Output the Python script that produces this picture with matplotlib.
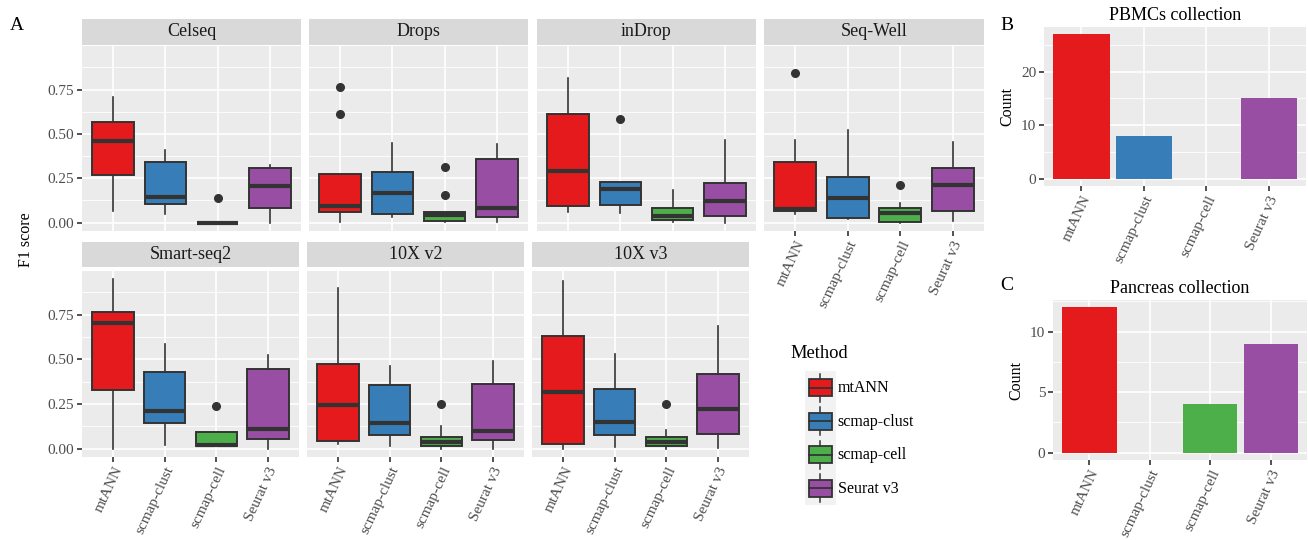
import numpy as np
import matplotlib.pyplot as plt
from matplotlib.patches import Rectangle
from matplotlib.lines import Line2D
from matplotlib.legend_handler import HandlerBase

plt.rcParams['font.family'] = ['Liberation Serif', 'DejaVu Serif']

methods = ['mtANN', 'scmap-clust', 'scmap-cell', 'Seurat v3']
colors = ['#E41A1C', '#377EB8', '#4DAF4A', '#984EA3']
platforms = ['Celseq', 'Drops', 'inDrop', 'Seq-Well', 'Smart-seq2', '10X v2', '10X v3']

# box summaries: one row per platform, one column per method
whisker_low = [
    [0.065, 0.049, 0.0, 0.0],
    [0.005, 0.034, 0.005, 0.005],
    [0.062, 0.052, 0.005, 0.0],
    [0.05, 0.02, 0.0, 0.01],
    [0.0, 0.019, 0.015, 0.0],
    [0.024, 0.013, 0.0, 0.0],
    [0.0, 0.006, 0.0, 0.004],
]
q1 = [
    [0.27, 0.105, 0.0, 0.082],
    [0.058, 0.047, 0.007, 0.03],
    [0.091, 0.10, 0.017, 0.037],
    [0.065, 0.028, 0.005, 0.065],
    [0.328, 0.142, 0.015, 0.054],
    [0.041, 0.075, 0.013, 0.049],
    [0.024, 0.076, 0.013, 0.084],
]
median = [
    [0.46, 0.145, 0.0, 0.207],
    [0.091, 0.166, 0.045, 0.082],
    [0.291, 0.19, 0.035, 0.121],
    [0.077, 0.138, 0.056, 0.211],
    [0.705, 0.213, 0.02, 0.112],
    [0.246, 0.146, 0.035, 0.101],
    [0.315, 0.151, 0.039, 0.224],
]
q3 = [
    [0.567, 0.343, 0.0, 0.31],
    [0.276, 0.287, 0.062, 0.358],
    [0.61, 0.229, 0.082, 0.224],
    [0.343, 0.256, 0.082, 0.31],
    [0.765, 0.427, 0.091, 0.444],
    [0.474, 0.358, 0.063, 0.364],
    [0.632, 0.334, 0.065, 0.416],
]
whisker_high = [
    [0.707, 0.41, 0.0, 0.325],
    [0.276, 0.45, 0.062, 0.444],
    [0.815, 0.229, 0.183, 0.463],
    [0.468, 0.52, 0.108, 0.455],
    [0.948, 0.586, 0.091, 0.526],
    [0.899, 0.463, 0.127, 0.493],
    [0.942, 0.53, 0.106, 0.688],
]
outliers = [
    [[], [], [0.14], []],
    [[0.763, 0.614], [], [0.315, 0.155], []],
    [[], [0.586], [], []],
    [[0.845], [], [0.214], []],
    [[], [], [0.239], []],
    [[], [], [0.252], []],
    [[], [], [0.25], []],
]

pbmc_counts = [27, 8, 0, 15]
pancreas_counts = [12, 0, 4, 9]

W, H = 1308, 540
fig = plt.figure(figsize=(W / 100, H / 100), dpi=100)


def px_axes(x0, y0, x1, y1):
    return fig.add_axes([x0 / W, 1 - y1 / H, (x1 - x0) / W, (y1 - y0) / H])


def ggstyle(ax):
    ax.set_facecolor('#EBEBEB')
    for s in ax.spines.values():
        s.set_visible(False)
    ax.set_axisbelow(True)
    ax.grid(which='major', color='white', linewidth=1.2)
    ax.grid(which='minor', axis='y', color='white', linewidth=0.6)
    ax.tick_params(which='major', length=3.5, width=1.2, color='#333333',
                   labelcolor='#4D4D4D', labelsize=11, pad=2)
    ax.tick_params(which='minor', length=0)


def xlabels(ax):
    ax.set_xticklabels(methods, rotation=65, ha='right', va='top',
                       rotation_mode='anchor')


all_vals = [v for row in whisker_high for v in row] + \
    [v for row in outliers for f in row for v in f]
ymax = max(all_vals)
ylim = (-0.05 * ymax, 1.05 * ymax)

top_cols = [(82, 301), (309, 528), (537, 756), (764, 984)]
bot_cols = [(82, 299), (307, 524), (532, 749)]
cells = [(c, 19, 45, 46, 231) for c in top_cols] + \
    [(c, 242, 267, 271, 457) for c in bot_cols]

for i, name in enumerate(platforms):
    (x0, x1), s0, s1, p0, p1 = cells[i]
    strip = px_axes(x0, s0, x1, s1)
    strip.set_facecolor('#D9D9D9')
    strip.set_xticks([])
    strip.set_yticks([])
    for s in strip.spines.values():
        s.set_visible(False)
    strip.text(0.5, 0.5, name, ha='center', va='center', fontsize=13,
               color='#1A1A1A', transform=strip.transAxes)

    ax = px_axes(x0, p0, x1, p1)
    ggstyle(ax)
    stats = []
    for j in range(4):
        stats.append(dict(whislo=whisker_low[i][j], q1=q1[i][j], med=median[i][j],
                          q3=q3[i][j], whishi=whisker_high[i][j],
                          fliers=outliers[i][j]))
    bp = ax.bxp(stats, positions=[1, 2, 3, 4], widths=0.8, patch_artist=True,
                showcaps=False, manage_ticks=False,
                boxprops=dict(edgecolor='#333333', linewidth=1.4),
                medianprops=dict(color='#333333', linewidth=3),
                whiskerprops=dict(color='#333333', linewidth=1.2),
                flierprops=dict(marker='o', markerfacecolor='#333333',
                                markeredgecolor='#333333', markersize=5.5))
    for patch, c in zip(bp['boxes'], colors):
        patch.set_facecolor(c)
    ax.set_xlim(0.4, 4.6)
    ax.set_ylim(*ylim)
    ax.set_xticks([1, 2, 3, 4])
    ax.set_yticks([0, 0.25, 0.5, 0.75])
    ax.set_yticks([0.125, 0.375, 0.625, 0.875], minor=True)
    ax.set_yticklabels(['0.00', '0.25', '0.50', '0.75'])
    if i not in (0, 4):
        ax.tick_params(axis='y', which='major', length=0, labelleft=False)
    if i >= 3:
        xlabels(ax)
    else:
        ax.tick_params(axis='x', which='major', length=0, labelbottom=False)

fig.text(17 / W, 1 - 25 / H, 'A', fontsize=14, ha='center', va='center')
fig.text(26 / W, 1 - 240 / H, 'F1 score', fontsize=11.5, rotation=90,
         ha='center', va='center')


def bar_panel(box, counts, title, major, minor, letter, letter_xy):
    ax = px_axes(*box)
    ggstyle(ax)
    ax.bar([1, 2, 3, 4], counts, width=0.9, color=colors)
    ax.set_xlim(0.4, 4.6)
    top = max(counts)
    ax.set_ylim(-0.05 * top, 1.05 * top)
    ax.set_xticks([1, 2, 3, 4])
    xlabels(ax)
    ax.set_yticks(major)
    ax.set_yticks(minor, minor=True)
    ax.set_ylabel('Count', fontsize=11.5, labelpad=4)
    ax.set_title(title, fontsize=13, pad=5)
    fig.text(letter_xy[0] / W, 1 - letter_xy[1] / H, letter, fontsize=14,
             ha='center', va='center')


bar_panel((1044, 27, 1306, 186), pbmc_counts, 'PBMCs collection',
          [0, 10, 20], [5, 15, 25], 'B', (1007, 25))
bar_panel((1053, 300, 1307, 460), pancreas_counts, 'Pancreas collection',
          [0, 5, 10], [2.5, 7.5, 12.5], 'C', (1007, 285))


class BoxKey(HandlerBase):
    def create_artists(self, legend, orig_handle, xdescent, ydescent,
                       width, height, fontsize, trans):
        x0, y0 = -xdescent, -ydescent
        cx, cy = x0 + width / 2, y0 + height / 2
        bg = Rectangle((x0, y0), width, height, facecolor='#F2F2F2',
                       edgecolor='none', transform=trans)
        whisk = Line2D([cx, cx], [y0 + 0.08 * height, y0 + 0.92 * height],
                       color='#333333', lw=1.1, transform=trans)
        box = Rectangle((x0 + 0.12 * width, cy - 0.25 * height), 0.76 * width,
                        0.5 * height, facecolor=orig_handle.get_facecolor(),
                        edgecolor='#333333', lw=1.3, transform=trans)
        med = Line2D([x0 + 0.12 * width, x0 + 0.88 * width], [cy, cy],
                     color='#333333', lw=1.3, transform=trans)
        return [bg, whisk, box, med]


handles = [Rectangle((0, 0), 1, 1, facecolor=c) for c in colors]
fs = 11.5
em = fs * 100 / 72
# matplotlib's handle box is (0.65*hh + 0.245) font sizes tall
key_h = 33.5 / em
hh = (key_h - 0.245) / 0.65
fig.legend(handles, methods, handler_map={Rectangle: BoxKey()},
           loc='upper left', bbox_to_anchor=(805 / W, 1 - 371 / H),
           frameon=False, borderpad=0, borderaxespad=0, labelspacing=0,
           handlelength=31 / em, handleheight=hh, handletextpad=0.1,
           fontsize=fs)
fig.text(790 / W, 1 - 354 / H, 'Method', fontsize=13.3, ha='left', va='center')

fig.savefig('out.png', dpi=100)
